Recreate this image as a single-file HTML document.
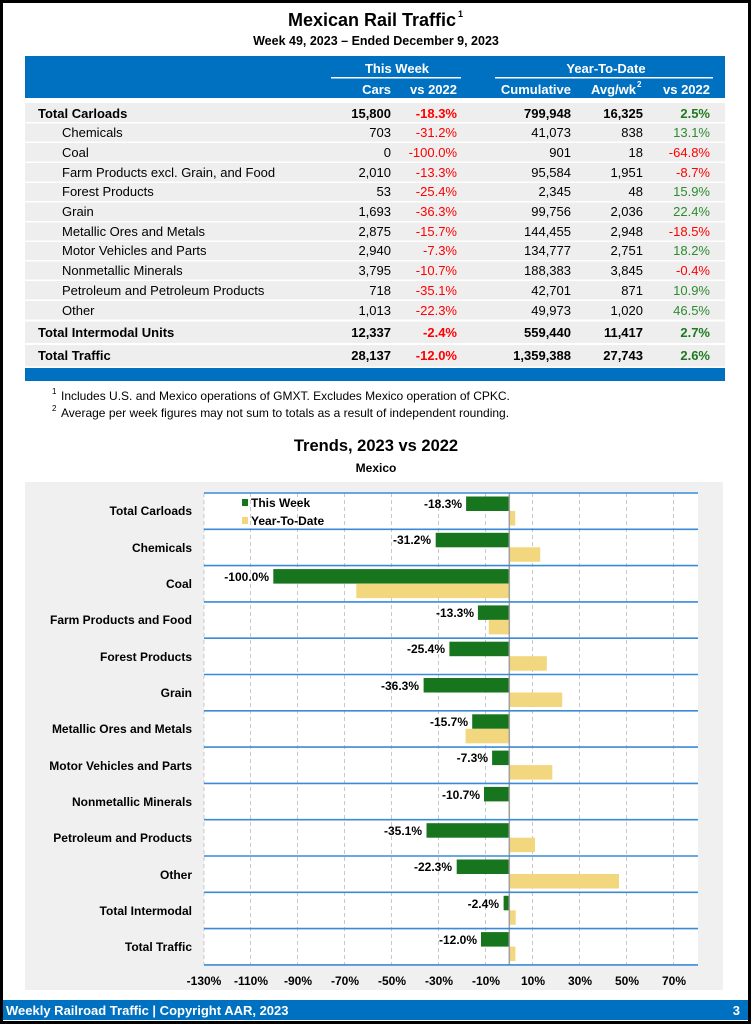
<!DOCTYPE html>
<html><head><meta charset="utf-8"><style>
html,body{margin:0;padding:0;background:#fff}
svg{display:block;font-family:"Liberation Sans",Arial,sans-serif}
.b{font-weight:bold}
</style></head><body>
<svg width="751" height="1024" viewBox="0 0 751 1024" xmlns="http://www.w3.org/2000/svg">
<rect x="0" y="0" width="751" height="1024" fill="#fff"/>
<rect x="1.5" y="1.5" width="748" height="1021" fill="none" stroke="#000" stroke-width="3"/>

<!-- Title -->
<text x="372" y="26" text-anchor="middle" font-size="18" class="b">Mexican Rail Traffic</text>
<text x="458" y="17" font-size="9" class="b">1</text>
<text x="376" y="45" text-anchor="middle" font-size="12.5" class="b">Week 49, 2023 – Ended December 9, 2023</text>

<!-- Table header -->
<rect x="25" y="56" width="700" height="42" fill="#0070c0"/>
<g fill="#fff" class="b" font-size="13">
<text x="397" y="73" text-anchor="middle">This Week</text>
<text x="606" y="73" text-anchor="middle">Year-To-Date</text>
<text x="391" y="94" text-anchor="end">Cars</text>
<text x="457" y="94" text-anchor="end">vs 2022</text>
<text x="571" y="94" text-anchor="end">Cumulative</text>
<text x="636" y="94" text-anchor="end">Avg/wk</text>
<text x="637" y="87" font-size="8">2</text>
<text x="710" y="94" text-anchor="end">vs 2022</text>
</g>
<rect x="331" y="77" width="130" height="1.5" fill="#fff"/>
<rect x="495" y="77" width="218" height="1.5" fill="#fff"/>

<!-- Rows bg -->
<g fill="#eeeeee">
<rect x="25" y="103" width="700" height="19"/>
<rect x="25" y="123.5" width="700" height="18"/>
<rect x="25" y="143" width="700" height="18.5"/>
<rect x="25" y="163" width="700" height="18.5"/>
<rect x="25" y="183" width="700" height="18"/>
<rect x="25" y="202.5" width="700" height="18.5"/>
<rect x="25" y="222.5" width="700" height="18"/>
<rect x="25" y="242" width="700" height="18"/>
<rect x="25" y="261.5" width="700" height="18"/>
<rect x="25" y="281" width="700" height="18.5"/>
<rect x="25" y="301" width="700" height="18.5"/>
<rect x="25" y="321.5" width="700" height="21.5"/>
<rect x="25" y="345" width="700" height="21.5"/>
</g>
<rect x="25" y="368" width="700" height="13" fill="#0070c0"/>

<g font-size="13">
<!-- labels -->
<text x="38" y="118" class="b">Total Carloads</text>
<text x="62" y="137">Chemicals</text>
<text x="62" y="157">Coal</text>
<text x="62" y="177">Farm Products excl. Grain, and Food</text>
<text x="62" y="196">Forest Products</text>
<text x="62" y="216">Grain</text>
<text x="62" y="236">Metallic Ores and Metals</text>
<text x="62" y="255">Motor Vehicles and Parts</text>
<text x="62" y="275">Nonmetallic Minerals</text>
<text x="62" y="295">Petroleum and Petroleum Products</text>
<text x="62" y="315">Other</text>
<text x="38" y="337" class="b">Total Intermodal Units</text>
<text x="38" y="360" class="b">Total Traffic</text>
</g>
<g font-size="13" text-anchor="end">
<!-- Cars -->
<text x="391" y="118" class="b">15,800</text>
<text x="391" y="137">703</text>
<text x="391" y="157">0</text>
<text x="391" y="177">2,010</text>
<text x="391" y="196">53</text>
<text x="391" y="216">1,693</text>
<text x="391" y="236">2,875</text>
<text x="391" y="255">2,940</text>
<text x="391" y="275">3,795</text>
<text x="391" y="295">718</text>
<text x="391" y="315">1,013</text>
<text x="391" y="337" class="b">12,337</text>
<text x="391" y="360" class="b">28,137</text>
<!-- vs 2022 -->
<g fill="#ff0000">
<text x="457" y="118" class="b">-18.3%</text>
<text x="457" y="137">-31.2%</text>
<text x="457" y="157">-100.0%</text>
<text x="457" y="177">-13.3%</text>
<text x="457" y="196">-25.4%</text>
<text x="457" y="216">-36.3%</text>
<text x="457" y="236">-15.7%</text>
<text x="457" y="255">-7.3%</text>
<text x="457" y="275">-10.7%</text>
<text x="457" y="295">-35.1%</text>
<text x="457" y="315">-22.3%</text>
<text x="457" y="337" class="b">-2.4%</text>
<text x="457" y="360" class="b">-12.0%</text>
</g>
<!-- Cumulative -->
<text x="571" y="118" class="b">799,948</text>
<text x="571" y="137">41,073</text>
<text x="571" y="157">901</text>
<text x="571" y="177">95,584</text>
<text x="571" y="196">2,345</text>
<text x="571" y="216">99,756</text>
<text x="571" y="236">144,455</text>
<text x="571" y="255">134,777</text>
<text x="571" y="275">188,383</text>
<text x="571" y="295">42,701</text>
<text x="571" y="315">49,973</text>
<text x="571" y="337" class="b">559,440</text>
<text x="571" y="360" class="b">1,359,388</text>
<!-- Avg -->
<text x="643" y="118" class="b">16,325</text>
<text x="643" y="137">838</text>
<text x="643" y="157">18</text>
<text x="643" y="177">1,951</text>
<text x="643" y="196">48</text>
<text x="643" y="216">2,036</text>
<text x="643" y="236">2,948</text>
<text x="643" y="255">2,751</text>
<text x="643" y="275">3,845</text>
<text x="643" y="295">871</text>
<text x="643" y="315">1,020</text>
<text x="643" y="337" class="b">11,417</text>
<text x="643" y="360" class="b">27,743</text>
<!-- YTD vs -->
<g fill="#2e8b2e">
<text x="710" y="118" class="b" fill="#1e7a1e">2.5%</text>
<text x="710" y="137">13.1%</text>
<text x="710" y="157" fill="#ff0000">-64.8%</text>
<text x="710" y="177" fill="#ff0000">-8.7%</text>
<text x="710" y="196">15.9%</text>
<text x="710" y="216">22.4%</text>
<text x="710" y="236" fill="#ff0000">-18.5%</text>
<text x="710" y="255">18.2%</text>
<text x="710" y="275" fill="#ff0000">-0.4%</text>
<text x="710" y="295">10.9%</text>
<text x="710" y="315">46.5%</text>
<text x="710" y="337" class="b" fill="#1e7a1e">2.7%</text>
<text x="710" y="360" class="b" fill="#1e7a1e">2.6%</text>
</g>
</g>

<!-- Footnotes -->
<text x="52" y="394" font-size="8">1</text>
<text x="61" y="400" font-size="12">Includes U.S. and Mexico operations of GMXT. Excludes Mexico operation of CPKC.</text>
<text x="52" y="411" font-size="8">2</text>
<text x="61" y="417" font-size="12">Average per week figures may not sum to totals as a result of independent rounding.</text>

<!-- Chart title -->
<text x="376" y="451" text-anchor="middle" font-size="16.5" class="b">Trends, 2023 vs 2022</text>
<text x="376" y="472" text-anchor="middle" font-size="12" class="b">Mexico</text>

<!-- Chart bg -->
<rect x="25" y="482" width="698" height="508" fill="#f0f0f0"/>
<rect x="204" y="493" width="494" height="472" fill="#fff"/>
<!-- grid -->
<g stroke="#c8c8c8" stroke-dasharray="4,3" stroke-width="1">
<line x1="204" y1="493" x2="204" y2="965"/>
<line x1="250.5" y1="493" x2="250.5" y2="965"/>
<line x1="297.5" y1="493" x2="297.5" y2="965"/>
<line x1="344.5" y1="493" x2="344.5" y2="965"/>
<line x1="391.5" y1="493" x2="391.5" y2="965"/>
<line x1="438.5" y1="493" x2="438.5" y2="965"/>
<line x1="485.5" y1="493" x2="485.5" y2="965"/>
<line x1="532.5" y1="493" x2="532.5" y2="965"/>
<line x1="579.5" y1="493" x2="579.5" y2="965"/>
<line x1="626.5" y1="493" x2="626.5" y2="965"/>
<line x1="673.5" y1="493" x2="673.5" y2="965"/>
</g>

<!-- green bars -->
<g fill="#17751e">
<rect x="466.1" y="496.5" width="43.2" height="14.5"/>
<rect x="435.7" y="532.8" width="73.6" height="14.5"/>
<rect x="273.3" y="569.1" width="236" height="14.5"/>
<rect x="477.9" y="605.4" width="31.4" height="14.5"/>
<rect x="449.4" y="641.7" width="59.9" height="14.5"/>
<rect x="423.6" y="678" width="85.7" height="14.5"/>
<rect x="472.2" y="714.3" width="37.1" height="14.5"/>
<rect x="492.1" y="750.6" width="17.2" height="14.5"/>
<rect x="484" y="786.9" width="25.3" height="14.5"/>
<rect x="426.5" y="823.2" width="82.8" height="14.5"/>
<rect x="456.7" y="859.5" width="52.6" height="14.5"/>
<rect x="503.6" y="895.8" width="5.7" height="14.5"/>
<rect x="481" y="932.1" width="28.3" height="14.5"/>
</g>
<!-- yellow bars -->
<g fill="#f2d77e">
<rect x="509.3" y="511" width="5.9" height="14.5"/>
<rect x="509.3" y="547.3" width="30.9" height="14.5"/>
<rect x="356.3" y="583.6" width="153" height="14.5"/>
<rect x="488.8" y="619.9" width="20.5" height="14.5"/>
<rect x="509.3" y="656.2" width="37.5" height="14.5"/>
<rect x="509.3" y="692.5" width="52.9" height="14.5"/>
<rect x="465.6" y="728.8" width="43.7" height="14.5"/>
<rect x="509.3" y="765.1" width="43" height="14.5"/>
<rect x="508.4" y="801.4" width="0.9" height="14.5"/>
<rect x="509.3" y="837.7" width="25.7" height="14.5"/>
<rect x="509.3" y="874" width="109.7" height="14.5"/>
<rect x="509.3" y="910.3" width="6.4" height="14.5"/>
<rect x="509.3" y="946.6" width="6.1" height="14.5"/>
</g>
<line x1="509.3" y1="493" x2="509.3" y2="965" stroke="#a0a0a0" stroke-width="1.5"/>

<!-- band separators -->
<g stroke="#3a8ad8" stroke-width="1.6">
<line x1="204" y1="493" x2="698" y2="493"/>
<line x1="204" y1="529.3" x2="698" y2="529.3"/>
<line x1="204" y1="565.6" x2="698" y2="565.6"/>
<line x1="204" y1="601.9" x2="698" y2="601.9"/>
<line x1="204" y1="638.2" x2="698" y2="638.2"/>
<line x1="204" y1="674.5" x2="698" y2="674.5"/>
<line x1="204" y1="710.8" x2="698" y2="710.8"/>
<line x1="204" y1="747.1" x2="698" y2="747.1"/>
<line x1="204" y1="783.4" x2="698" y2="783.4"/>
<line x1="204" y1="819.7" x2="698" y2="819.7"/>
<line x1="204" y1="856" x2="698" y2="856"/>
<line x1="204" y1="892.3" x2="698" y2="892.3"/>
<line x1="204" y1="928.6" x2="698" y2="928.6"/>
<line x1="204" y1="964.9" x2="698" y2="964.9"/>
</g>

<!-- value labels -->
<g font-size="12" class="b" text-anchor="end">
<text x="462" y="508">-18.3%</text>
<text x="431" y="544">-31.2%</text>
<text x="269" y="581">-100.0%</text>
<text x="474" y="617">-13.3%</text>
<text x="445" y="653">-25.4%</text>
<text x="419" y="690">-36.3%</text>
<text x="468" y="726">-15.7%</text>
<text x="488" y="762">-7.3%</text>
<text x="480" y="799">-10.7%</text>
<text x="422" y="835">-35.1%</text>
<text x="452" y="871">-22.3%</text>
<text x="499" y="908">-2.4%</text>
<text x="477" y="944">-12.0%</text>
</g>

<!-- category labels -->
<g font-size="12" class="b" text-anchor="end">
<text x="192" y="515">Total Carloads</text>
<text x="192" y="552">Chemicals</text>
<text x="192" y="588">Coal</text>
<text x="192" y="624">Farm Products and Food</text>
<text x="192" y="661">Forest Products</text>
<text x="192" y="697">Grain</text>
<text x="192" y="733">Metallic Ores and Metals</text>
<text x="192" y="770">Motor Vehicles and Parts</text>
<text x="192" y="806">Nonmetallic Minerals</text>
<text x="192" y="842">Petroleum and Products</text>
<text x="192" y="879">Other</text>
<text x="192" y="915">Total Intermodal</text>
<text x="192" y="951">Total Traffic</text>
</g>

<!-- legend -->
<rect x="242" y="499" width="6" height="7" fill="#17751e"/>
<text x="251" y="507" font-size="12" class="b">This Week</text>
<rect x="242" y="517" width="6" height="7" fill="#f2d77e"/>
<text x="251" y="525" font-size="12" class="b">Year-To-Date</text>

<!-- x ticks -->
<g font-size="12" class="b" text-anchor="middle">
<text x="204" y="985">-130%</text>
<text x="251" y="985">-110%</text>
<text x="298" y="985">-90%</text>
<text x="345" y="985">-70%</text>
<text x="392" y="985">-50%</text>
<text x="439" y="985">-30%</text>
<text x="486" y="985">-10%</text>
<text x="533" y="985">10%</text>
<text x="580" y="985">30%</text>
<text x="627" y="985">50%</text>
<text x="674" y="985">70%</text>
</g>

<!-- footer -->
<rect x="3" y="1000" width="745" height="20" fill="#0070c0"/>
<text x="6" y="1015" font-size="13" class="b" fill="#fff">Weekly Railroad Traffic | Copyright AAR, 2023</text>
<text x="740" y="1015" font-size="13" class="b" fill="#fff" text-anchor="end">3</text>
</svg>
</body></html>
